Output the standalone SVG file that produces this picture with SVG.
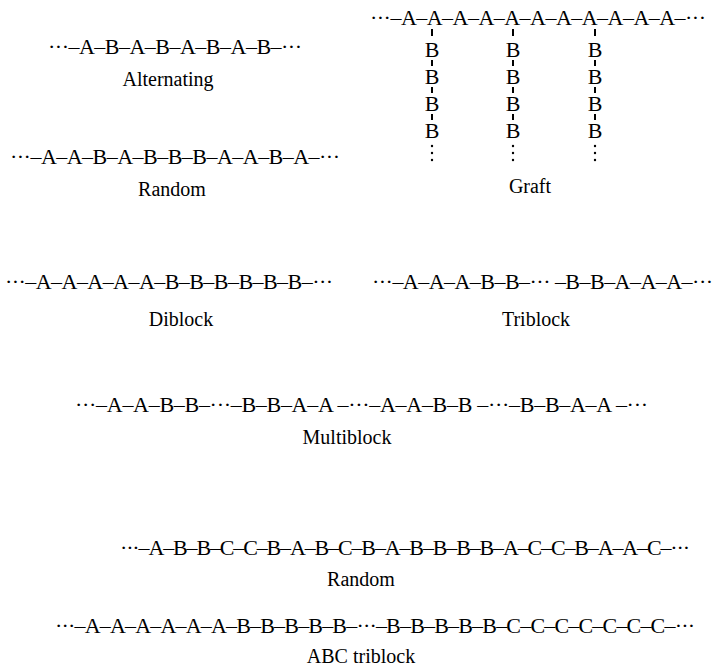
<svg xmlns="http://www.w3.org/2000/svg" width="715" height="668" viewBox="0 0 715 668">
<style>
.chain{font-family:"Liberation Serif","Times New Roman",serif;font-size:22px;fill:#000}
.label{font-family:"Liberation Serif","Times New Roman",serif;font-size:20px;fill:#000;text-anchor:middle}
.b{font-family:"Liberation Serif","Times New Roman",serif;font-size:22px;fill:#000;text-anchor:middle}
.tick{stroke:#000;stroke-width:2}
</style>
<rect width="715" height="668" fill="#fff"/>
<g id="alternating">
<text class="chain" x="48" y="54" textLength="254" lengthAdjust="spacing">···–A–B–A–B–A–B–A–B–···</text>
<text class="label" x="168" y="86">Alternating</text>
</g>
<g id="random">
<text class="chain" x="10" y="164" textLength="330" lengthAdjust="spacing">···–A–A–B–A–B–B–B–A–A–B–A–···</text>
<text class="label" x="172" y="196">Random</text>
</g>
<g id="graft">
<text class="chain" x="370" y="25" textLength="336" lengthAdjust="spacing">···–A–A–A–A–A–A–A–A–A–A–A–···</text>
<text class="b" x="432" y="57">B</text><text class="b" x="432" y="84">B</text><text class="b" x="432" y="111">B</text><text class="b" x="432" y="138">B</text>
<text class="b" x="513" y="57">B</text><text class="b" x="513" y="84">B</text><text class="b" x="513" y="111">B</text><text class="b" x="513" y="138">B</text>
<text class="b" x="595" y="57">B</text><text class="b" x="595" y="84">B</text><text class="b" x="595" y="111">B</text><text class="b" x="595" y="138">B</text>
<text class="label" x="530" y="193">Graft</text>
</g>
<g id="connectors">
<path class="tick" d="M432 29v7M432 60v6M432 87v6M432 114v6M513 29v7M513 60v6M513 87v6M513 114v6M595 29v7M595 60v6M595 87v6M595 114v6"/>
<g fill="#000">
<circle cx="432" cy="146" r="1.2"/><circle cx="432" cy="153" r="1.2"/><circle cx="432" cy="160" r="1.2"/>
<circle cx="513" cy="146" r="1.2"/><circle cx="513" cy="153" r="1.2"/><circle cx="513" cy="160" r="1.2"/>
<circle cx="595" cy="146" r="1.2"/><circle cx="595" cy="153" r="1.2"/><circle cx="595" cy="160" r="1.2"/>
</g>
</g>
<g id="diblock">
<text class="chain" x="5" y="289" textLength="328" lengthAdjust="spacing">···–A–A–A–A–A–B–B–B–B–B–B–···</text>
<text class="label" x="181" y="326">Diblock</text>
</g>
<g id="triblock">
<text class="chain" x="372" y="289" textLength="341" lengthAdjust="spacing">···–A–A–A–B–B–··· –B–B–A–A–A–···</text>
<text class="label" x="536" y="326">Triblock</text>
</g>
<g id="multiblock">
<text class="chain" x="75" y="412" textLength="573" lengthAdjust="spacing">···–A–A–B–B–···–B–B–A–A –···–A–A–B–B –···–B–B–A–A –···</text>
<text class="label" x="347" y="444">Multiblock</text>
</g>
<g id="abc-random">
<text class="chain" x="120" y="555" textLength="570" lengthAdjust="spacing">···–A–B–B–C–C–B–A–B–C–B–A–B–B–B–B–A–C–C–B–A–A–C–···</text>
<text class="label" x="361" y="586">Random</text>
</g>
<g id="abc-triblock">
<text class="chain" x="55" y="633" textLength="640" lengthAdjust="spacing">···–A–A–A–A–A–A–B–B–B–B–B–···–B–B–B–B–B–C–C–C–C–C–C–C–···</text>
<text class="label" x="361" y="663">ABC triblock</text>
</g>
</svg>
